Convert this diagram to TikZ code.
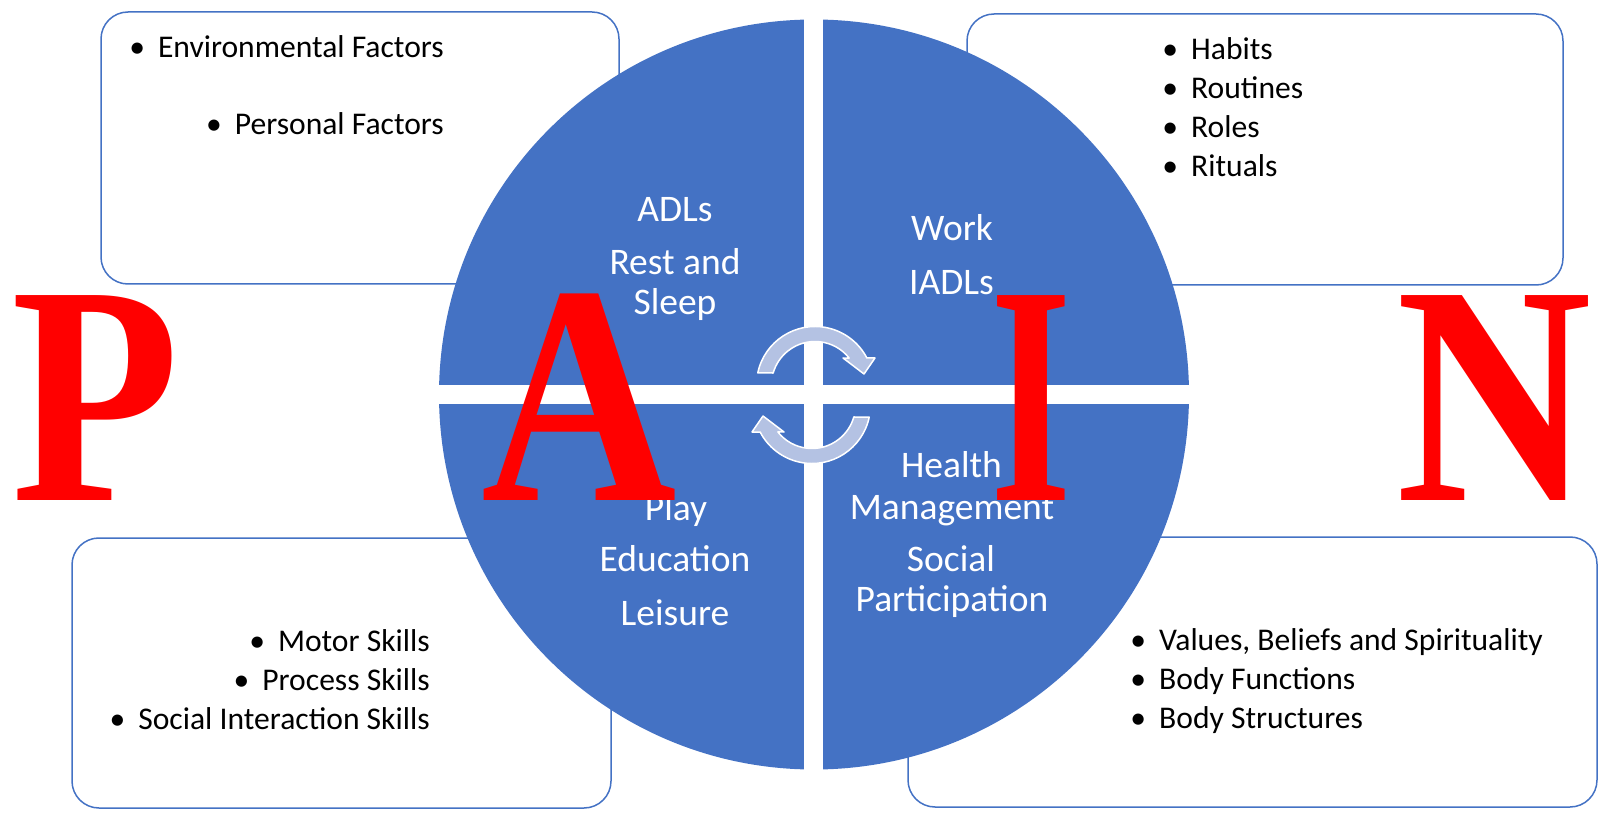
\documentclass[tikz,border=0pt]{standalone}
\usepackage{graphicx}
\usepackage{fontspec}
\setmainfont{Carlito}
\newfontfamily\letterfont{Liberation Serif}
\definecolor{ringblue}{HTML}{4472C4}
\definecolor{arrowfill}{HTML}{B4C2E3}
\definecolor{letterred}{HTML}{FF0000}
\newcommand{\bul}{\llap{\textbullet\hspace{13pt}}}
\begin{document}
\begin{tikzpicture}[x=1pt,y=-1pt,
  infobox/.style={draw=ringblue, line width=1.5pt, rounded corners=27pt},
  quadtext/.style={text=white, font=\fontsize{37.5}{37.5}\selectfont, inner sep=0pt, anchor=base},
  itemR/.style={font=\fontsize{31.6}{31.6}\selectfont, inner sep=0pt, anchor=base east},
  itemL/.style={font=\fontsize{31.6}{31.6}\selectfont, inner sep=0pt, anchor=base west},
  bigletter/.style={text=letterred, font=\letterfont\bfseries\fontsize{313}{313}\selectfont, inner sep=0pt, anchor=base},
  cyclearrow/.style={fill=arrowfill, draw=white, line width=1.5pt, line join=round}]
\useasboundingbox (0,0) rectangle (1618,818);
% boxes
\draw[infobox] (101,12) rectangle (619,284);
\draw[infobox] (967,14) rectangle (1563,285);
\draw[infobox] (72,538) rectangle (611,808);
\draw[infobox] (908,537) rectangle (1597,807);
% circle
\fill[ringblue] (814,394.5) circle[radius=375];
\fill[white] (803.5,10) rectangle (822.5,780);
\fill[white] (430,385) rectangle (1200,404);
% cycle arrows
\begin{scope}[shift={(815,385)}]
\filldraw[cyclearrow] (-168:58.5) arc[start angle=-168,end angle=-27.5,radius=58.5] -- (60,-27) -- (49,-11) -- (28,-27) -- (-38.3:43.5) arc[start angle=-38.3,end angle=-164,radius=43.5] -- cycle;
\end{scope}
\begin{scope}[shift={(812,405)},rotate=180]
\filldraw[cyclearrow] (-168:58.5) arc[start angle=-168,end angle=-27.5,radius=58.5] -- (60,-27) -- (49,-11) -- (28,-27) -- (-38.3:43.5) arc[start angle=-38.3,end angle=-164,radius=43.5] -- cycle;
\end{scope}
% quadrant texts
\node[quadtext] (adl) at (675,221.5) {ADLs};
\node[quadtext] (rest) at (675,275) {Rest and};
\node[quadtext] (sleep) at (675,315) {Sleep};
\node[quadtext] (work) at (952,241) {Work};
\node[quadtext] (iadl) at (951.5,295) {IADLs};
\node[quadtext] (play) at (676,520) {Play};
\node[quadtext] (edu) at (675,571) {Education};
\node[quadtext] (leis) at (675,625) {Leisure};
\node[quadtext] (health) at (951.5,477.5) {Health};
\node[quadtext] (mgmt) at (952,519) {Management};
\node[quadtext] (social) at (951,571) {Social};
\node[quadtext] (part) at (952,611.5) {Participation};
% box texts
\node[itemR] (env) at (444,58) {\bul Environmental Factors};
\node[itemR] (pers) at (444,135) {\bul Personal Factors};
\node[itemL] (hab) at (1191,59.5) {\bul Habits};
\node[itemL] (rout) at (1191,98.7) {\bul Routines};
\node[itemL] (roles) at (1191,138) {\bul Roles};
\node[itemL] (rit) at (1191,177) {\bul Rituals};
\node[itemR] (motor) at (430,651.5) {\bul Motor Skills};
\node[itemR] (proc) at (430,690.5) {\bul Process Skills};
\node[itemR] (sint) at (430,729) {\bul Social Interaction Skills};
\node[itemL] (vals) at (1159,650.5) {\bul Values, Beliefs and Spirituality};
\node[itemL] (bfun) at (1159,689.5) {\bul Body Functions};
\node[itemL] (bstr) at (1159,728) {\bul Body Structures};
% big letters
\node[bigletter] (P) at (95.5,500) {\scalebox{0.88}[1]{P}};
\node[bigletter] (A) at (579,500) {\scalebox{0.865}[1]{A}};
\node[bigletter] (I) at (1031,500) {\scalebox{0.67}[1]{I}};
\node[bigletter] (N) at (1494,500) {\scalebox{0.865}[1]{N}};
\end{tikzpicture}
\end{document}
